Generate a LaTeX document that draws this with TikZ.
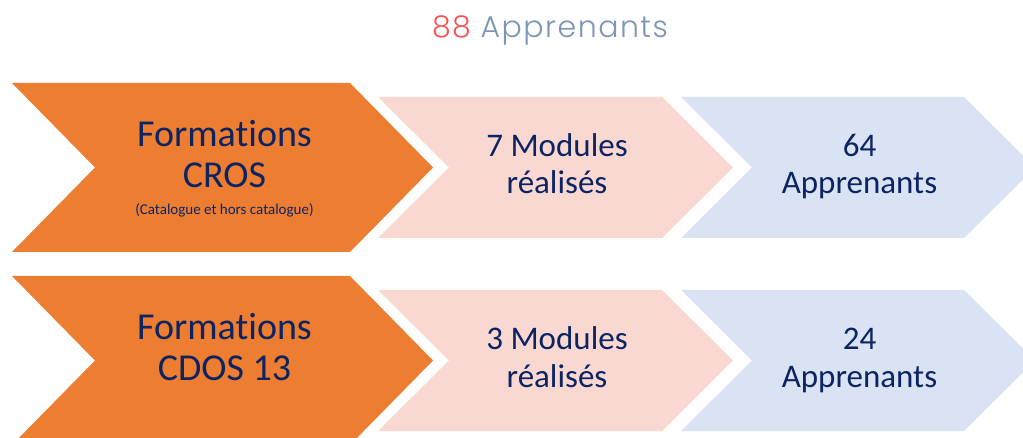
\documentclass[tikz,border=0pt]{standalone}
\usepackage{fontspec}
\setmainfont{Carlito}[Ligatures=NoCommon]
\newfontfamily\titlefont{Poppins}[UprightFont=* Light, LetterSpace=5]
\definecolor{orangec}{RGB}{237,125,49}
\definecolor{pinkc}{RGB}{248,216,209}
\definecolor{bluec}{RGB}{218,227,243}
\definecolor{navy}{RGB}{12,36,98}
\definecolor{titlered}{RGB}{250,80,80}
\definecolor{titlegray}{RGB}{125,150,182}
\tikzset{
  bigtxt/.style={text=navy, inner sep=0pt, anchor=base, font=\fontsize{38}{42}\selectfont},
  midtxt/.style={text=navy, inner sep=0pt, anchor=base, font=\fontsize{33}{36}\selectfont},
  smalltxt/.style={text=navy, inner sep=0pt, anchor=base, font=\fontsize{15}{17}\selectfont}
}
\begin{document}
\begin{tikzpicture}[x=1pt,y=-1pt]
\useasboundingbox (0,0) rectangle (1023,438);
\clip (0,0) rectangle (1023,438);
\fill[white] (0,0) rectangle (1023,438);
\draw (550,38) node[inner sep=0pt, anchor=base, font=\titlefont\fontsize{30}{33}\selectfont] (title)
  {\textcolor{titlered}{88} \textcolor{titlegray}{Apprenants}};

\foreach \y/\a/\b/\n in {0/CROS/7/64, 193/CDOS 13/3/24}{
\fill[orangec] (12,83+\y)--(350,83+\y)--(433,167.5+\y)--(350,252+\y)--(12,252+\y)--(95,167.5+\y)--cycle;
\fill[pinkc] (378,97+\y)--(662,97+\y)--(733,167.5+\y)--(662,238+\y)--(378,238+\y)--(449,167.5+\y)--cycle;
\fill[bluec] (681,97+\y)--(964,97+\y)--(1035,167.5+\y)--(964,238+\y)--(681,238+\y)--(752,167.5+\y)--cycle;
\draw (224.5,147+\y) node[bigtxt] (form\n) {Formations};
\draw (224.5,188+\y) node[bigtxt] (org\n) {\a};
\draw (557,157+\y) node[midtxt] (mod\n) {\b{} Modules};
\draw (557,194+\y) node[midtxt] (real\n) {réalisés};
\draw (859.5,157+\y) node[midtxt] (num\n) {\n};
\draw (859.5,194+\y) node[midtxt] (app\n) {Apprenants};
}
\draw (224.5,215) node[smalltxt] (cat) {(Catalogue et hors catalogue)};
\end{tikzpicture}
\end{document}
